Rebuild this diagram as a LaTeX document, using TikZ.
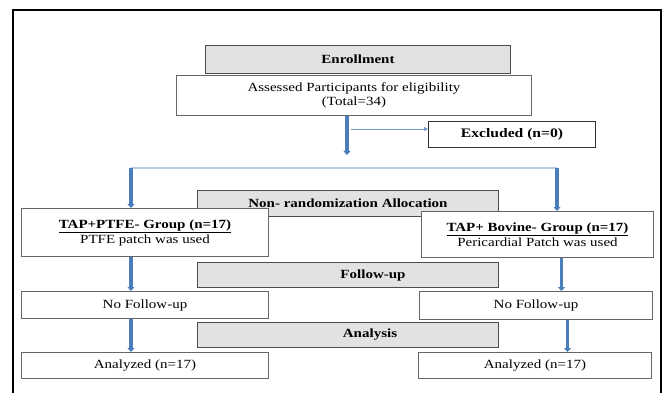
\documentclass[tikz,border=0pt]{standalone}
\usepackage{fontspec}
\setmainfont{Liberation Serif}[FakeStretch=1.2]
\usepackage{xcolor}
\usetikzlibrary{arrows.meta}
\definecolor{arrowblue}{RGB}{74,126,187}
\definecolor{lineblue}{RGB}{184,206,232}
\definecolor{boxgrey}{RGB}{226,226,226}

\begin{document}
\begin{tikzpicture}
    [x=1pt,y=-1pt,
     txt/.style={font=\fontsize{12.5}{13.5}\selectfont, inner sep=0pt, align=center, anchor=north west},
     whitebox/.style={txt, draw=black!60, line width=1pt, fill=white},
     greybox/.style={txt, draw=black!70, line width=1pt, fill=boxgrey, font=\fontsize{12.5}{13.5}\selectfont\bfseries},
     bigarrow/.style={draw=arrowblue, line width=3.5pt, -{Triangle[width=7pt,length=4pt]}},
     thinarrow/.style={draw=arrowblue!80, line width=0.8pt, -{Triangle[width=4pt,length=4pt]}},
     splitline/.style={draw=lineblue, line width=1.6pt}]

    \useasboundingbox (0,0) rectangle (664,393);

    % frame round the chart
    \draw[line width=2.5pt] (13,393) -- (13,10) -- (661,10) -- (661,393);

    \node[greybox, minimum width=305pt, minimum height=28pt] (enrol) at (205,45) {Enrollment};
    \node[whitebox, minimum width=355pt, minimum height=40pt] (assess) at (176,75)
        {Assessed Participants for eligibility\\(Total=34)};
    \node[whitebox, draw=black!80, font=\fontsize{13}{14}\selectfont\bfseries,
          minimum width=167pt, minimum height=26pt] (excl) at (428,121) {Excluded (n=0)};

    \node[greybox, minimum width=301pt, minimum height=26pt] (alloc) at (197,190)
        {Non- randomization Allocation};
    \node[whitebox, minimum width=247pt, minimum height=48pt] (ptfe) at (21,208)
        {\underline{\textbf{TAP+PTFE- Group (n=17)}}\\[1.5pt]PTFE patch was used};
    \node[whitebox, minimum width=232pt, minimum height=46pt] (bov) at (421,211)
        {\underline{\textbf{TAP+ Bovine- Group (n=17)}}\\[1.5pt]Pericardial Patch was used};

    \node[greybox, minimum width=301pt, minimum height=25pt] (follow) at (197,262)
        {\hspace*{50pt}Follow-up};
    \node[whitebox, minimum width=247pt, minimum height=27pt] (nofuL) at (21,291) {No Follow-up};
    \node[whitebox, minimum width=233pt, minimum height=28pt] (nofuR) at (419,291) {No Follow-up};

    \node[greybox, minimum width=301pt, minimum height=25pt] (anal) at (197,322)
        {\hspace*{44pt}Analysis};
    \node[whitebox, minimum width=247pt, minimum height=26pt] (anaL) at (21,352) {Analyzed (n=17)};
    \node[whitebox, minimum width=233pt, minimum height=26pt] (anaR) at (418,352) {Analyzed (n=17)};

    \coordinate (mainend) at (347,155);
    \coordinate (exstart) at (351,129);
    \coordinate (splitL) at (131,168);
    \coordinate (splitR) at (557,168);

    \draw[bigarrow] (mainend |- assess.south) -- (mainend);
    \draw[thinarrow] (exstart) -- (exstart -| excl.west);
    \draw[splitline] (splitL) -- (splitR);
    \draw[bigarrow] (splitL) -- (splitL |- ptfe.north);
    \draw[bigarrow] (splitR) -- (splitR |- bov.north);

    \draw[bigarrow] (splitL |- ptfe.south) -- (splitL |- nofuL.north);
    \draw[bigarrow] (splitL |- nofuL.south) -- (splitL |- anaL.north);
    \draw[bigarrow] ([xshift=24pt]bov.south) -- ([xshift=24pt]bov.south |- nofuR.north);
    \draw[bigarrow] ([xshift=31.5pt]nofuR.south) -- ([xshift=31.5pt]nofuR.south |- anaR.north);
\end{tikzpicture}
\end{document}
